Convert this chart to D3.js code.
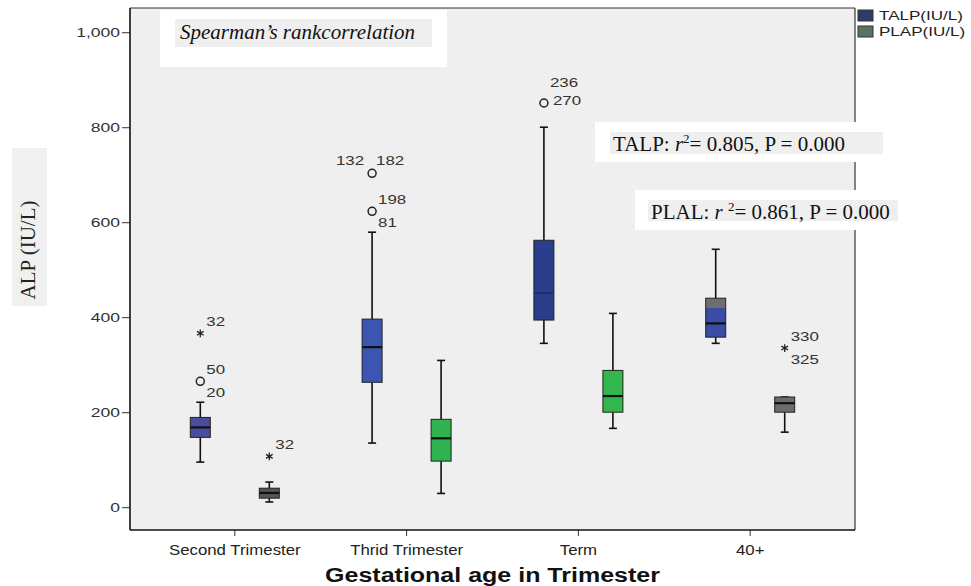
<!DOCTYPE html>
<html>
<head>
<meta charset="utf-8">
<script src="https://cdn.jsdelivr.net/npm/d3@7"></script>
<style>
  html, body { margin: 0; padding: 0; background: #ffffff; }
  svg { display: block; }
</style>
</head>
<body>
<svg id="chart" width="971" height="586"></svg>
<script>
// ---- data ----
const categories = ["Second Trimester", "Thrid Trimester", "Term", "40+"];
const seriesNames = ["TALP(IU/L)", "PLAP(IU/L)"];

// five-number summaries per trimester: [lower whisker, Q1, median, Q3, upper whisker]
const talpStats = [
  [95, 147, 168, 189, 221],
  [135, 263, 337, 396, 579],
  [345, 394, 451, 562, 800],
  [345, 358, 387, 440, 543]
];
const plapStats = [
  [11, 19, 30, 40, 53],
  [29, 97, 145, 185, 309],
  [166, 200, 234, 288, 408],
  [158, 200, 219, 232, 232]
];

// outlying cases (SPSS: o = outlier, * = extreme)
const outlierCategory = [0, 0, 0, 1, 1, 2, 3];
const outlierSeries   = [0, 0, 1, 0, 0, 0, 1];
const outlierValue    = [366, 265, 107, 703, 623, 851, 335];
const outlierSymbol   = ["star", "circle", "star", "circle", "circle", "circle", "star"];
const outlierCases    = [["32"], ["50", "20"], ["32"], ["132", "182"], ["198", "81"], ["236", "270"], ["330", "325"]];

const yTicks = [0, 200, 400, 600, 800, 1000];

const talpR2 = 0.805, plapR2 = 0.861, pValue = 0.000;

// ---- styles ----
const talpFill = ["#4a4c9c", "#3d55b2", "#293f8d", "url(#talpLate)"];
const plapFill = ["#555555", "#2fb24f", "#33b74c", "#6c6c6c"];
const medianStroke = [["#111", "#111", "#1f2f6a", "#111"], ["#111", "#111", "#111", "#111"]];
const legendFill = ["#2f3b66", "#587564"];

const plot = { left: 130, right: 855, top: 8, bottom: 530 };
const svg = d3.select("#chart");

const defs = svg.append("defs");
const grad = defs.append("linearGradient").attr("id", "talpLate")
  .attr("x1", 0).attr("y1", 0).attr("x2", 0).attr("y2", 1);
grad.append("stop").attr("offset", 0).attr("stop-color", "#6e6e72");
grad.append("stop").attr("offset", 0.24).attr("stop-color", "#6e6e72");
grad.append("stop").attr("offset", 0.26).attr("stop-color", "#3a4ca6");
grad.append("stop").attr("offset", 1).attr("stop-color", "#3a4ca6");

// widen glyphs horizontally, like the stretched export of the original chart
function stretch(sel, k) {
  sel.each(function () {
    const w = this.getComputedTextLength();
    d3.select(this).attr("textLength", w * k).attr("lengthAdjust", "spacingAndGlyphs");
  });
}

// ---- scales ----
const x = d3.scaleBand().domain(categories)
  .range([plot.left, plot.right]).paddingInner(0).paddingOuter(0.11);
const sub = d3.scalePoint().domain([0, 1]).range([-34.5, 34.5]);
const y = d3.scaleLinear().domain([-48, 1051]).range([plot.bottom, plot.top]);
const cx = (ci, s) => x(categories[ci]) + x.bandwidth() / 2 + sub(s);

// ---- plot background and frame ----
svg.append("rect")
  .attr("x", plot.left).attr("y", plot.top)
  .attr("width", plot.right - plot.left).attr("height", plot.bottom - plot.top)
  .attr("fill", "#efefef");
svg.append("line").attr("x1", plot.left).attr("x2", plot.right)
  .attr("y1", plot.top).attr("y2", plot.top).attr("stroke", "#333").attr("stroke-width", 1.2);
svg.append("line").attr("x1", plot.right).attr("x2", plot.right)
  .attr("y1", plot.top).attr("y2", plot.bottom).attr("stroke", "#333").attr("stroke-width", 1.2);

// ---- axes ----
const yAxis = svg.append("g")
  .attr("transform", `translate(${plot.left},0)`)
  .call(d3.axisLeft(y).tickValues(yTicks).tickFormat(d3.format(",")).tickSize(8).tickPadding(2));
yAxis.select(".domain").remove();
yAxis.selectAll(".tick line").attr("stroke", "#333");
yAxis.selectAll("text").attr("font-family", "Liberation Sans, Arial, sans-serif")
  .attr("font-size", 12.5).attr("fill", "#333").call(stretch, 1.4);
svg.append("line").attr("x1", plot.left).attr("x2", plot.left)
  .attr("y1", plot.top).attr("y2", plot.bottom).attr("stroke", "#111").attr("stroke-width", 1.6);

const xAxis = svg.append("g")
  .attr("transform", `translate(0,${plot.bottom})`)
  .call(d3.axisBottom(x).tickSize(6).tickPadding(8));
xAxis.select(".domain").remove();
xAxis.selectAll(".tick line").attr("stroke", "#333");
xAxis.selectAll("text").attr("font-family", "Liberation Sans, Arial, sans-serif")
  .attr("font-size", 15).attr("fill", "#222").call(stretch, 1.12);
svg.append("line").attr("x1", plot.left).attr("x2", plot.right)
  .attr("y1", plot.bottom).attr("y2", plot.bottom).attr("stroke", "#111").attr("stroke-width", 1.6);

// ---- box plots ----
const boxW = 20, capW = 8;
const boxes = [];
talpStats.forEach((st, i) => boxes.push({ ci: i, s: 0, st, fill: talpFill[i], med: medianStroke[0][i] }));
plapStats.forEach((st, i) => boxes.push({ ci: i, s: 1, st, fill: plapFill[i], med: medianStroke[1][i] }));

const bg = svg.append("g");
boxes.forEach(b => {
  const c = cx(b.ci, b.s);
  const [lo, q1, med, q3, hi] = b.st;
  const g = bg.append("g");
  g.append("line").attr("x1", c).attr("x2", c).attr("y1", y(hi)).attr("y2", y(q3))
    .attr("stroke", "#111").attr("stroke-width", 1.6);
  g.append("line").attr("x1", c).attr("x2", c).attr("y1", y(q1)).attr("y2", y(lo))
    .attr("stroke", "#111").attr("stroke-width", 1.6);
  [lo, hi].forEach(v => g.append("line")
    .attr("x1", c - capW / 2).attr("x2", c + capW / 2).attr("y1", y(v)).attr("y2", y(v))
    .attr("stroke", "#111").attr("stroke-width", 1.6));
  g.append("rect").attr("x", c - boxW / 2).attr("y", y(q3))
    .attr("width", boxW).attr("height", y(q1) - y(q3))
    .attr("fill", b.fill).attr("stroke", "#222").attr("stroke-width", 1);
  g.append("line").attr("x1", c - boxW / 2).attr("x2", c + boxW / 2)
    .attr("y1", y(med)).attr("y2", y(med)).attr("stroke", b.med).attr("stroke-width", 2.2);
});

// ---- outliers with case labels ----
const labelLayout = ["single", "stack", "single", "split", "stack", "aboveBeside", "stack"];
const og = svg.append("g");
outlierValue.forEach((v, k) => {
  const c = cx(outlierCategory[k], outlierSeries[k]);
  const py = y(v);
  if (outlierSymbol[k] === "circle") {
    og.append("circle").attr("cx", c).attr("cy", py).attr("r", 4)
      .attr("fill", "none").attr("stroke", "#222").attr("stroke-width", 1.5);
  } else {
    og.append("path").attr("d", d3.symbol(d3.symbolAsterisk, 42)())
      .attr("transform", `translate(${c},${py})`)
      .attr("fill", "none").attr("stroke", "#222").attr("stroke-width", 1.3);
  }
  const cases = outlierCases[k];
  const place = labelLayout[k];
  const spots = {
    single: [[6, -7, "start"]],
    stack: [[6, -7, "start"], [6, 16, "start"]],
    split: [[-8, -8, "end"], [4, -8, "start"]],
    aboveBeside: [[6, -16, "start"], [9, 2, "start"]]
  }[place];
  cases.forEach((lab, j) => {
    const [dx, dy, anchor] = spots[j];
    og.append("text").attr("x", c + dx).attr("y", py + dy)
      .attr("text-anchor", anchor)
      .attr("font-family", "Liberation Sans, Arial, sans-serif")
      .attr("font-size", 12.5).attr("fill", "#333").text(lab)
      .call(stretch, 1.35);
  });
});

// ---- legend ----
const lg = svg.append("g");
seriesNames.forEach((name, i) => {
  lg.append("rect").attr("x", 858).attr("y", 10 + i * 16).attr("width", 15).attr("height", 11)
    .attr("fill", legendFill[i]).attr("stroke", "#333").attr("stroke-width", 1);
  lg.append("text").attr("x", 879).attr("y", 20 + i * 16)
    .attr("font-family", "Liberation Sans, Arial, sans-serif")
    .attr("font-size", 12).attr("fill", "#222").text(name)
    .call(stretch, 1.42);
});

// ---- axis titles ----
svg.append("text").attr("x", (plot.left + plot.right) / 2).attr("y", 582)
  .attr("text-anchor", "middle").attr("font-family", "Liberation Sans, Arial, sans-serif")
  .attr("font-weight", "bold").attr("font-size", 20).attr("fill", "#111")
  .text("Gestational age in Trimester").call(stretch, 1.25);

svg.append("rect").attr("x", 12).attr("y", 148).attr("width", 35).attr("height", 158).attr("fill", "#f0f0f0");
svg.append("text").attr("transform", "translate(35,250) rotate(-90)")
  .attr("text-anchor", "middle").attr("font-family", "Liberation Serif, 'Times New Roman', serif")
  .attr("font-size", 21).attr("fill", "#222").text("ALP (IU/L)");

// ---- statistics notes ----
const serif = "Liberation Serif, 'Times New Roman', serif";
svg.append("rect").attr("x", 160).attr("y", 10).attr("width", 287).attr("height", 57).attr("fill", "#ffffff");
svg.append("rect").attr("x", 175).attr("y", 19).attr("width", 257).attr("height", 28).attr("fill", "#efefef");
svg.append("text").attr("x", 180).attr("y", 39).attr("font-family", serif)
  .attr("font-style", "italic").attr("font-size", 21).attr("fill", "#111")
  .text("Spearman’s rankcorrelation");

function r2Note(label, r2, spaced, tx, ty) {
  const t = svg.append("text").attr("x", tx).attr("y", ty)
    .attr("font-family", serif).attr("font-size", 21).attr("fill", "#111");
  t.append("tspan").text(label + ": ");
  t.append("tspan").attr("font-style", "italic").text(spaced ? "r " : "r");
  t.append("tspan").attr("font-size", 13).attr("dy", -8).text("2");
  t.append("tspan").attr("dy", 8).text("= " + r2.toFixed(3) + ", P = " + pValue.toFixed(3));
  return t;
}
svg.append("rect").attr("x", 595).attr("y", 122).attr("width", 290).attr("height", 40).attr("fill", "#ffffff");
svg.append("rect").attr("x", 610).attr("y", 132).attr("width", 273).attr("height", 22).attr("fill", "#efefef");
r2Note("TALP", talpR2, false, 613, 151);

svg.append("rect").attr("x", 635).attr("y", 190).attr("width", 280).attr("height", 40).attr("fill", "#ffffff");
svg.append("rect").attr("x", 648).attr("y", 200).attr("width", 250).attr("height", 21).attr("fill", "#efefef");
r2Note("PLAL", plapR2, true, 651, 219);
</script>
</body>
</html>
